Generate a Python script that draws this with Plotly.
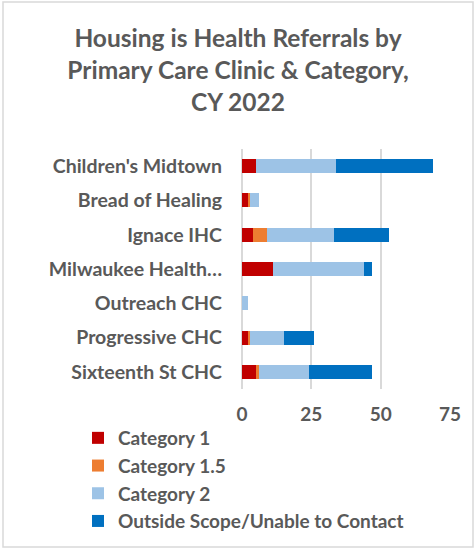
import plotly.graph_objects as go

clinics = ["Children's Midtown", "Bread of Healing", "Ignace IHC", "Milwaukee Health…",
           "Outreach CHC", "Progressive CHC", "Sixteenth St CHC"]
cat1 = [5, 2, 4, 11, 0, 2, 5]
cat15 = [0, 1, 5, 0, 0, 1, 1]
cat2 = [29, 3, 24, 33, 2, 12, 18]
outside = [35, 0, 20, 3, 0, 11, 23]
series_names = ["Category 1", "Category 1.5", "Category 2", "Outside Scope/Unable to Contact"]
series_colors = ["#C00000", "#ED7D31", "#9DC3E6", "#0070C0"]
x_ticks = [0, 25, 50, 75]

W, H = 476, 550
ML, MR, MT, MB = 242, 26, 149, 161
FONT = "Lato"
GRAY = "#595959"

fig = go.Figure()
for name, vals, col in zip(series_names, [cat1, cat15, cat2, outside], series_colors):
    fig.add_trace(go.Bar(
        y=clinics, x=vals, name=name, orientation="h",
        marker=dict(color=col, line=dict(width=0)),
        legendgroup=name,
    ))

pw = W - ML - MR
ph = H - MT - MB
fig.add_shape(type="rect", xref="paper", yref="paper",
              x0=-(ML - 3) / pw, x1=1 + (MR - 3) / pw,
              y0=-(MB - 3) / ph, y1=1 + (MT - 2) / ph,
              line=dict(color="#D9D9D9", width=1.5), fillcolor="rgba(0,0,0,0)", layer="below")

fig.update_layout(
    width=W, height=H,
    margin=dict(l=ML, r=MR, t=MT, b=MB, autoexpand=False),
    barmode="stack",
    bargap=0.59,
    plot_bgcolor="white", paper_bgcolor="white",
    font=dict(family=FONT, color=GRAY, size=19, weight="bold"),
    title=dict(
        text="<b>Housing is Health Referrals by<br>Primary Care Clinic & Category,<br>CY 2022</b>",
        x=0.5, xref="container", xanchor="center",
        y=1 - 47 / H, yref="container", yanchor="top",
        font=dict(family=FONT, size=24.5, color=GRAY),
    ),
    xaxis=dict(range=[0, 75], tickvals=x_ticks, showgrid=True, gridcolor="#D9D9D9", gridwidth=1.5,
               zeroline=True, zerolinecolor="#D9D9D9", zerolinewidth=1.5, showline=False,
               tickfont=dict(family=FONT, size=19, color=GRAY, weight="bold"), ticks="",
               ticklabelstandoff=12, fixedrange=True),
    yaxis=dict(autorange="reversed", showgrid=False, showline=False, ticks="",
               ticklabelstandoff=19, fixedrange=True,
               tickfont=dict(family=FONT, size=19.5, color=GRAY, weight="bold")),
    legend=dict(xref="container", yref="container",
                x=78 / W, xanchor="left", y=1 - 419 / H, yanchor="top",
                traceorder="grouped", tracegroupgap=0,
                bgcolor="rgba(0,0,0,0)",
                font=dict(family=FONT, size=19, color=GRAY, weight="bold"),
                itemwidth=30),
    showlegend=True,
)

fig.write_html("out.html", config={"displayModeBar": False},
               post_script="document.body.style.margin='0px';")
